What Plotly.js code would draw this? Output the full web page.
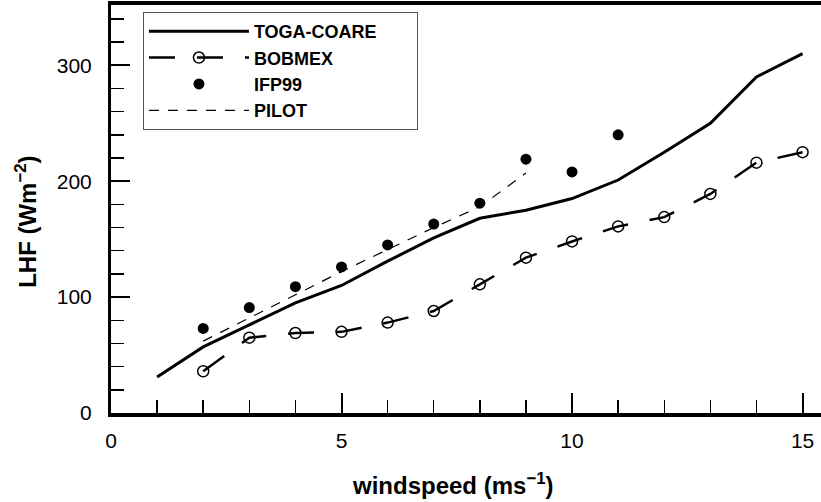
<!DOCTYPE html>
<html>
<head>
<meta charset="utf-8">
<script src="https://cdn.plot.ly/plotly-3.0.1.min.js"></script>
<style>html,body{margin:0;padding:0;background:#fff;}#chart{width:821px;height:502px;}</style>
</head>
<body>
<div id="chart"></div>
<script>
// Data
var togaX = [1, 2, 3, 4, 5, 6, 7, 8, 9, 10, 11, 12, 13, 14, 15];
var togaY = [31, 57, 76, 95, 110, 131, 151, 168, 175, 185, 201, 225, 250, 290, 310];

var bobmexX = [2, 3, 4, 5, 6, 7, 8, 9, 10, 11, 12, 13, 14, 15];
var bobmexY = [36, 65, 69, 70, 78, 88, 111, 134, 148, 161, 169, 189, 216, 225];

var ifpX = [2, 3, 4, 5, 6, 7, 8, 9, 10, 11];
var ifpY = [73, 91, 109, 126, 145, 163, 181, 219, 208, 240];

var pilotX = [2, 3, 4, 5, 6, 7, 8, 9];
var pilotY = [62, 82, 102, 122, 141, 160, 178, 207];

var xTickVals = [0, 5, 10, 15];
var yTickVals = [0, 100, 200, 300];

var xTitle = '<b>windspeed (ms<sup>\u22121</sup>)</b>';
var yTitle = '<b>LHF (Wm<sup>\u22122</sup>)</b>';

var pad = '\u00a0'.repeat(7);

var traces = [
  {x: togaX, y: togaY, name: 'TOGA-COARE' + pad, mode: 'lines',
   line: {color: '#000', width: 3}},
  {x: bobmexX, y: bobmexY, name: 'BOBMEX', mode: 'lines+markers',
   line: {color: '#000', width: 2.5, dash: '26px,22px'},
   marker: {symbol: 'circle', size: 11, color: 'rgba(255,255,255,0)', line: {color: '#000', width: 1.5}}},
  {x: ifpX, y: ifpY, name: 'IFP99', mode: 'markers',
   marker: {symbol: 'circle', size: 11, color: '#000'}},
  {x: pilotX, y: pilotY, name: 'PILOT', mode: 'lines',
   line: {color: '#000', width: 1.2, dash: '10px,9px'}}
];

var layout = {
  width: 821, height: 502,
  margin: {l: 111, r: 0, t: 5, b: 89},
  paper_bgcolor: '#fff', plot_bgcolor: '#fff',
  font: {family: 'Liberation Sans, Arial, sans-serif', color: '#000', size: 21},
  showlegend: true,
  legend: {
    x: 0.045, y: 0.983, xanchor: 'left', yanchor: 'top',
    bgcolor: '#fff', bordercolor: '#555', borderwidth: 1,
    font: {size: 18, family: 'Liberation Sans, Arial, sans-serif', weight: 'bold', color: '#000'},
    itemwidth: 100, tracegroupgap: 0
  },
  xaxis: {
    range: [0, 15.4], showgrid: false, zeroline: false,
    showline: true, linecolor: '#000', linewidth: 4, mirror: true,
    ticks: 'inside', ticklen: 20, tickwidth: 2, tickcolor: '#000',
    tickvals: xTickVals, ticktext: xTickVals.map(String),
    tickfont: {size: 21}, ticklabelstandoff: 6,
    minor: {ticks: 'inside', ticklen: 13, tickwidth: 1.5, tickcolor: '#000', dtick: 1, tick0: 0}
  },
  yaxis: {
    range: [0, 352], showgrid: false, zeroline: false,
    showline: true, linecolor: '#000', linewidth: 3,
    ticks: 'inside', ticklen: 19, tickwidth: 2, tickcolor: '#000',
    tickvals: yTickVals, ticktext: yTickVals.map(String),
    tickfont: {size: 21}, ticklabelstandoff: 12,
    minor: {ticks: 'inside', ticklen: 13, tickwidth: 1.5, tickcolor: '#000', dtick: 20, tick0: 0}
  },
  annotations: [
    {text: xTitle, xref: 'paper', yref: 'paper', x: 0.482, y: -0.175, xanchor: 'center', yanchor: 'middle',
     showarrow: false, font: {size: 24}},
    {text: yTitle, xref: 'paper', yref: 'paper', x: -0.12, y: 0.468, xanchor: 'center', yanchor: 'middle',
     textangle: -90, showarrow: false, font: {size: 24}}
  ]
};

Plotly.newPlot('chart', traces, layout, {displayModeBar: false, staticPlot: true});
</script>
</body>
</html>
